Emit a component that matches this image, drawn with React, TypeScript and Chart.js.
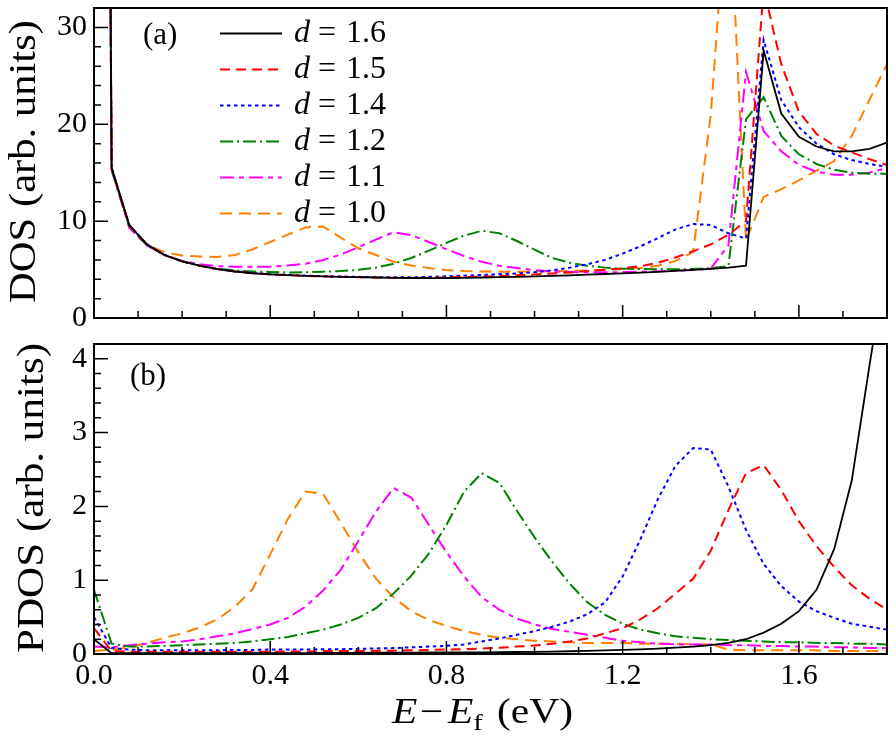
import React, { useEffect, useRef } from 'react';
import { Chart, registerables } from 'chart.js';

Chart.register(...registerables);

const FAMILY = '"Liberation Serif", "Times New Roman", serif';

// Energy grid E - Ef (eV)
const energies = [
  0.00, 0.04, 0.08, 0.12, 0.16, 0.20, 0.24, 0.28, 0.32, 0.36,
  0.40, 0.44, 0.48, 0.52, 0.56, 0.60, 0.64, 0.68, 0.72, 0.76,
  0.80, 0.84, 0.88, 0.92, 0.96, 1.00, 1.04, 1.08, 1.12, 1.16,
  1.20, 1.24, 1.28, 1.32, 1.36, 1.40, 1.44, 1.48, 1.52, 1.56,
  1.60, 1.64, 1.68, 1.72, 1.76, 1.80,
];

// Panel (a): DOS
const dos16 = [
  300, 15.5, 9.6, 7.6, 6.5, 5.85, 5.4, 5.05, 4.8, 4.62,
  4.5, 4.42, 4.35, 4.3, 4.25, 4.21, 4.18, 4.15, 4.13, 4.12,
  4.13, 4.15, 4.18, 4.21, 4.25, 4.3, 4.35, 4.41, 4.47, 4.54,
  4.61, 4.69, 4.77, 4.86, 4.96, 5.07, 5.2, 5.4, 27.6, 21.1,
  18.7, 17.7, 17.2, 17.2, 17.45, 18.1,
];
const dos15 = [
  300, 15.5, 9.6, 7.6, 6.5, 5.85, 5.4, 5.05, 4.8, 4.62,
  4.5, 4.42, 4.35, 4.3, 4.25, 4.21, 4.18, 4.15, 4.13, 4.14,
  4.18, 4.23, 4.28, 4.34, 4.42, 4.5, 4.6, 4.7, 4.84, 4.98,
  5.12, 5.35, 5.7, 6.25, 6.9, 7.6, 8.6, 10.0, 34.0, 26.2,
  21.3, 19.0, 17.8, 17.1, 16.4, 15.8,
];
const dos14 = [
  300, 15.5, 9.6, 7.6, 6.5, 5.85, 5.4, 5.05, 4.82, 4.64,
  4.52, 4.44, 4.38, 4.32, 4.28, 4.25, 4.22, 4.2, 4.2, 4.25,
  4.3, 4.37, 4.44, 4.52, 4.6, 4.72, 4.92, 5.2, 5.55, 6.0,
  6.65, 7.4, 8.25, 9.15, 9.7, 9.6, 8.75, 8.2, 28.7, 22.5,
  19.7, 18.0, 16.9, 16.3, 15.9, 15.6,
];
const dos12 = [
  300, 15.3, 9.5, 7.5, 6.5, 5.85, 5.4, 5.1, 4.9, 4.8,
  4.75, 4.7, 4.72, 4.78, 4.85, 4.97, 5.2, 5.6, 6.2, 6.95,
  7.75, 8.5, 9.0, 8.75, 7.95, 7.05, 6.2, 5.7, 5.4, 5.2,
  5.1, 5.05, 5.03, 5.03, 5.05, 5.15, 5.35, 20.5, 22.8, 18.8,
  16.9, 15.9, 15.3, 15.0, 14.9, 14.9,
];
const dos11 = [
  300, 15.3, 9.3, 7.5, 6.5, 5.9, 5.55, 5.35, 5.3, 5.28,
  5.3, 5.42, 5.6, 5.98, 6.55, 7.3, 8.1, 8.85, 8.55, 7.85,
  7.1, 6.4, 5.8, 5.4, 5.15, 4.95, 4.8, 4.75, 4.72, 4.72,
  4.74, 4.78, 4.82, 4.88, 4.95, 5.1, 7.5, 25.4, 19.3, 17.2,
  15.8, 15.1, 14.8, 14.8, 15.0, 15.5,
];
const dos10 = [
  300, 15.3, 9.5, 7.55, 6.8, 6.45, 6.35, 6.3, 6.5, 7.1,
  7.85, 8.6, 9.35, 9.45, 8.3, 7.2, 6.5, 5.8, 5.42, 5.16,
  4.95, 4.85, 4.8, 4.78, 4.78, 4.8, 4.82, 4.86, 4.9, 4.96,
  5.05, 5.15, 5.4, 5.9, 6.8, 21.0, 46.0, 8.0, 12.5, 13.3,
  14.2, 15.2, 16.2, 18.8, 22.5, 26.2,
];

// Panel (b): PDOS
const pdos16 = [
  0.2, 0.01, 0.01, 0.01, 0.01, 0.01, 0.01, 0.01, 0.01, 0.01,
  0.012, 0.012, 0.013, 0.014, 0.015, 0.016, 0.017, 0.018, 0.019, 0.02,
  0.021, 0.022, 0.023, 0.025, 0.027, 0.03, 0.033, 0.037, 0.042, 0.048,
  0.055, 0.063, 0.073, 0.086, 0.1, 0.12, 0.15, 0.2, 0.29, 0.41,
  0.58, 0.87, 1.42, 2.35, 3.9, 5.4,
];
const pdos15 = [
  0.35, 0.04, 0.03, 0.03, 0.03, 0.03, 0.03, 0.03, 0.03, 0.03,
  0.03, 0.035, 0.035, 0.04, 0.04, 0.04, 0.045, 0.045, 0.05, 0.055,
  0.06, 0.065, 0.075, 0.085, 0.1, 0.115, 0.14, 0.17, 0.21, 0.28,
  0.35, 0.47, 0.62, 0.82, 1.02, 1.4, 1.95, 2.45, 2.56, 2.22,
  1.8, 1.46, 1.18, 0.93, 0.75, 0.6,
];
const pdos14 = [
  0.5, 0.08, 0.06, 0.05, 0.05, 0.05, 0.05, 0.05, 0.055, 0.055,
  0.06, 0.06, 0.06, 0.065, 0.065, 0.07, 0.075, 0.08, 0.09, 0.1,
  0.11, 0.13, 0.17, 0.21, 0.26, 0.31, 0.37, 0.44, 0.54, 0.7,
  1.05, 1.55, 2.1, 2.55, 2.79, 2.77, 2.27, 1.68, 1.22, 0.92,
  0.71, 0.58, 0.49, 0.41, 0.37, 0.33,
];
const pdos12 = [
  0.87, 0.14, 0.1, 0.1, 0.11, 0.12, 0.13, 0.14, 0.15, 0.17,
  0.2, 0.23, 0.28, 0.33, 0.4, 0.49, 0.62, 0.82, 1.06, 1.36,
  1.75, 2.2, 2.45, 2.32, 1.94, 1.58, 1.25, 0.95, 0.7, 0.53,
  0.41, 0.33, 0.28, 0.24, 0.22, 0.2, 0.19, 0.18, 0.17, 0.16,
  0.16, 0.15, 0.15, 0.14, 0.14, 0.13,
];
const pdos11 = [
  0.1, 0.09, 0.12, 0.14, 0.16, 0.17, 0.2, 0.24, 0.28, 0.34,
  0.4, 0.49, 0.64, 0.86, 1.14, 1.53, 1.93, 2.25, 2.12, 1.75,
  1.38, 1.05, 0.77, 0.6, 0.48, 0.4, 0.34, 0.3, 0.26, 0.22,
  0.18, 0.16, 0.14, 0.13, 0.13, 0.13, 0.12, 0.12, 0.11, 0.11,
  0.1, 0.1, 0.09, 0.09, 0.08, 0.08,
];
const pdos10 = [
  0.04, 0.06, 0.09, 0.15, 0.22, 0.28, 0.36, 0.47, 0.64, 0.88,
  1.35, 1.83, 2.2, 2.17, 1.78, 1.38, 1.02, 0.77, 0.58, 0.46,
  0.38, 0.31, 0.26, 0.22, 0.2, 0.18, 0.17, 0.16, 0.15, 0.15,
  0.15, 0.14, 0.14, 0.14, 0.13, 0.13, 0.06, 0.05, 0.05, 0.05,
  0.05, 0.05, 0.04, 0.04, 0.04, 0.04,
];

const dLabels = ['1.6', '1.5', '1.4', '1.2', '1.1', '1.0'];
const lineColors = ['#000000', '#ff0000', '#0000ff', '#008000', '#ff00ff', '#ff8000'];
const lineDashes: number[][] = [[], [10, 6], [3.5, 3.5], [13, 4, 2, 4], [14, 5, 5, 5], [12, 7]];
const lineWidths = [1.8, 2, 2, 2, 2, 2];

const dosSeries = [dos16, dos15, dos14, dos12, dos11, dos10];
const pdosSeries = [pdos16, pdos15, pdos14, pdos12, pdos11, pdos10];

const xMin = 0;
const xMax = 1.8;
const xMajorStep = 0.4;
const xMinorStep = 0.1;
const dosMax = 32;
const dosMajorStep = 10;
const dosMinorStep = 2;
const pdosMax = 4.2;
const pdosMajorStep = 1;
const pdosMinorStep = 0.2;

function isMultiple(v: number, step: number) {
  const r = v / step;
  return Math.abs(r - Math.round(r)) < 1e-6;
}

function frameTicksPlugin(yMinor: number, yMajor: number) {
  return {
    id: 'frameTicks',
    afterDraw(chart: any) {
      const { ctx, chartArea: a } = chart;
      const xs = chart.scales.x;
      const ys = chart.scales.y;
      ctx.save();
      ctx.setLineDash([]);
      ctx.strokeStyle = '#000';
      ctx.lineWidth = 1.5;
      ctx.beginPath();
      for (let i = 1; i * xMinorStep < xs.max - 1e-6; i++) {
        const v = i * xMinorStep;
        const len = isMultiple(v, xMajorStep) ? 13 : 7;
        const px = xs.getPixelForValue(v);
        ctx.moveTo(px, a.bottom);
        ctx.lineTo(px, a.bottom - len);
      }
      for (let i = 1; i * yMinor < ys.max - 1e-6; i++) {
        const v = i * yMinor;
        const len = isMultiple(v, yMajor) ? 14 : 7;
        const py = ys.getPixelForValue(v);
        ctx.moveTo(a.left, py);
        ctx.lineTo(a.left + len, py);
      }
      ctx.stroke();
      ctx.lineWidth = 2;
      ctx.strokeRect(a.left, a.top, a.right - a.left, a.bottom - a.top);
      ctx.restore();
    },
  };
}

function drawVerticalTitle(ctx: CanvasRenderingContext2D, text: string, baselineX: number, centerY: number, targetLen: number) {
  ctx.save();
  ctx.font = `37px ${FAMILY}`;
  const w = ctx.measureText(text).width;
  ctx.translate(baselineX, centerY);
  ctx.rotate(-Math.PI / 2);
  ctx.scale(targetLen / w, 1);
  ctx.fillStyle = '#000';
  ctx.textAlign = 'center';
  ctx.textBaseline = 'alphabetic';
  ctx.fillText(text, 0, 0);
  ctx.restore();
}

const topTextPlugin = {
  id: 'topText',
  afterDraw(chart: any) {
    const ctx: CanvasRenderingContext2D = chart.ctx;
    drawVerticalTitle(ctx, 'DOS (arb. units)', 35, 161.5, 283);
    ctx.save();
    ctx.fillStyle = '#000';
    ctx.font = `31px ${FAMILY}`;
    ctx.textBaseline = 'alphabetic';
    ctx.textAlign = 'left';
    ctx.fillText('(a)', 143, 44);
    // legend
    for (let i = 0; i < dLabels.length; i++) {
      const y = 33.5 + i * 36;
      ctx.save();
      ctx.strokeStyle = lineColors[i];
      ctx.lineWidth = lineWidths[i];
      ctx.setLineDash(lineDashes[i]);
      ctx.beginPath();
      ctx.moveTo(220, y);
      ctx.lineTo(282, y);
      ctx.stroke();
      ctx.restore();
      ctx.textBaseline = 'middle';
      ctx.font = `italic 32px ${FAMILY}`;
      ctx.fillText('d', 294, y);
      ctx.font = `32px ${FAMILY}`;
      ctx.fillText('=', 318, y);
      ctx.fillText(dLabels[i], 346, y);
    }
    ctx.restore();
  },
};

const bottomTextPlugin = {
  id: 'bottomText',
  afterDraw(chart: any) {
    const ctx: CanvasRenderingContext2D = chart.ctx;
    drawVerticalTitle(ctx, 'PDOS (arb. units)', 43, 168, 310);
    ctx.save();
    ctx.fillStyle = '#000';
    ctx.textBaseline = 'alphabetic';
    ctx.textAlign = 'left';
    ctx.font = `31px ${FAMILY}`;
    ctx.fillText('(b)', 130, 55);

    // x-axis title: E − E_f (eV)
    const mainFont = `35px ${FAMILY}`;
    const italFont = `italic 35px ${FAMILY}`;
    const subFont = `24px ${FAMILY}`;
    const parts: { t: string; f: string; dy: number; gap: number }[] = [
      { t: 'E', f: italFont, dy: 0, gap: 2 },
      { t: '\u2212', f: mainFont, dy: 0, gap: 4 },
      { t: 'E', f: italFont, dy: 0, gap: 0 },
      { t: 'f', f: subFont, dy: 7, gap: 12 },
      { t: '(eV)', f: mainFont, dy: 0, gap: 0 },
    ];
    let total = 0;
    const widths = parts.map((p) => {
      ctx.font = p.f;
      const w = ctx.measureText(p.t).width;
      total += w + p.gap;
      return w;
    });
    const target = 181;
    const startX = 392;
    const baseY = 393;
    ctx.translate(startX, baseY);
    ctx.scale(target / total, 1);
    let x = 0;
    parts.forEach((p, i) => {
      ctx.font = p.f;
      ctx.fillText(p.t, x, p.dy);
      x += widths[i] + p.gap;
    });
    ctx.restore();
  },
};

function makeDatasets(series: number[][]) {
  return series.map((vals, i) => ({
    label: `d = ${dLabels[i]}`,
    data: energies.map((e, j) => ({ x: e, y: vals[j] })),
    borderColor: lineColors[i],
    backgroundColor: lineColors[i],
    borderDash: lineDashes[i],
    borderWidth: lineWidths[i],
    pointRadius: 0,
    fill: false,
    tension: 0,
  }));
}

function tickFont() {
  return { family: FAMILY, size: 30 };
}

function fitY(s: any) {
  s.width = 94;
  s.paddingTop = 0;
  s.paddingBottom = 0;
}

function fitX(h: number) {
  return (s: any) => {
    s.height = h;
    s.paddingLeft = 0;
    s.paddingRight = 0;
  };
}

export default function App() {
  const topRef = useRef<HTMLCanvasElement | null>(null);
  const botRef = useRef<HTMLCanvasElement | null>(null);

  useEffect(() => {
    if (!topRef.current || !botRef.current) return;
    const top = new Chart(topRef.current, {
      type: 'line',
      data: { datasets: makeDatasets(dosSeries) as any },
      options: {
        animation: false,
        responsive: false,
        maintainAspectRatio: false,
        devicePixelRatio: 1,
        layout: { padding: { top: 8, right: 9, left: 0, bottom: 0 }, autoPadding: false },
        plugins: { legend: { display: false }, tooltip: { enabled: false } },
        scales: {
          x: {
            type: 'linear',
            min: xMin,
            max: xMax,
            grid: { display: false, drawTicks: false },
            border: { display: false },
            ticks: { display: false },
            afterFit: fitX(12),
          },
          y: {
            type: 'linear',
            min: 0,
            max: dosMax,
            grid: { display: false, drawTicks: false },
            border: { display: false },
            ticks: {
              stepSize: dosMajorStep,
              includeBounds: false,
              padding: 7,
              color: '#000',
              font: tickFont(),
            },
            afterFit: fitY,
          },
        },
      } as any,
      plugins: [frameTicksPlugin(dosMinorStep, dosMajorStep), topTextPlugin],
    });

    const bot = new Chart(botRef.current, {
      type: 'line',
      data: { datasets: makeDatasets(pdosSeries) as any },
      options: {
        animation: false,
        responsive: false,
        maintainAspectRatio: false,
        devicePixelRatio: 1,
        layout: { padding: { top: 14, right: 9, left: 0, bottom: 0 }, autoPadding: false },
        plugins: { legend: { display: false }, tooltip: { enabled: false } },
        scales: {
          x: {
            type: 'linear',
            min: xMin,
            max: xMax,
            grid: { display: false, drawTicks: false },
            border: { display: false },
            ticks: {
              stepSize: xMajorStep,
              includeBounds: false,
              autoSkip: false,
              maxRotation: 0,
              padding: 4,
              color: '#000',
              font: tickFont(),
              callback: (v: any) => Number(v).toFixed(1),
            },
            afterFit: fitX(92),
          },
          y: {
            type: 'linear',
            min: 0,
            max: pdosMax,
            grid: { display: false, drawTicks: false },
            border: { display: false },
            ticks: {
              stepSize: pdosMajorStep,
              includeBounds: false,
              padding: 7,
              color: '#000',
              font: tickFont(),
            },
            afterFit: fitY,
          },
        },
      } as any,
      plugins: [frameTicksPlugin(pdosMinorStep, pdosMajorStep), bottomTextPlugin],
    });

    return () => {
      top.destroy();
      bot.destroy();
    };
  }, []);

  return (
    <div style={{ position: 'fixed', left: 0, top: 0, width: 896, height: 746, background: '#fff' }}>
      <canvas ref={topRef} width={896} height={330} style={{ position: 'absolute', left: 0, top: 0, width: 896, height: 330 }} />
      <canvas ref={botRef} width={896} height={416} style={{ position: 'absolute', left: 0, top: 330, width: 896, height: 416 }} />
    </div>
  );
}
